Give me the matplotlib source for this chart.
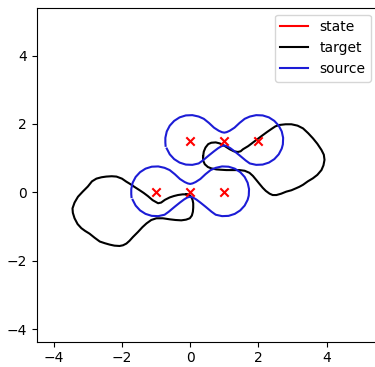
import matplotlib
matplotlib.use("Agg")
import matplotlib.pyplot as plt
from matplotlib.lines import Line2D

# state markers
state_x = [-1, 0, 1, 0, 1, 2]
state_y = [0, 0, 0, 1.5, 1.5, 1.5]

# source shape outline (relative to its centre)
shape_dx = [-1.686, -1.598, -1.469, -1.309, -1.127, -0.936, -0.750, -0.63, -0.45,
            -0.30, -0.18, -0.08, 0.00, 0.08, 0.18, 0.30, 0.45, 0.63, 0.750,
            0.936, 1.127, 1.309, 1.469, 1.598, 1.686, 1.719, 1.727, 1.686,
            1.598, 1.469, 1.309, 1.127, 0.936, 0.750, 0.60, 0.45, 0.30, 0.16,
            0.07, 0.00, -0.07, -0.16, -0.30, -0.45, -0.60, -0.750, -0.936,
            -1.127, -1.309, -1.469, -1.598, -1.686, -1.727, -1.727, -1.72]
shape_dy = [-0.22, -0.389, -0.529, -0.631, -0.689, -0.697, -0.656, -0.57, -0.42,
            -0.30, -0.21, -0.15, -0.13, -0.15, -0.21, -0.30, -0.42, -0.57, -0.656,
            -0.697, -0.689, -0.631, -0.529, -0.389, -0.22, -0.097, 0.094, 0.28,
            0.449, 0.589, 0.692, 0.749, 0.757, 0.716, 0.65, 0.53, 0.39, 0.30,
            0.26, 0.245, 0.26, 0.30, 0.39, 0.53, 0.65, 0.716, 0.757,
            0.749, 0.692, 0.589, 0.449, 0.28, 0.094, -0.05, -0.14]
source_centers_x = [0, 1]
source_centers_y = [0, 1.5]

# target curves
target1_x = [-0.11, -0.03, 0.03, 0.07, 0.09, 0.09, 0.08, 0.05, -0.01, -0.12, -0.26,
             -0.43, -0.60, -0.80, -0.99, -1.14, -1.28, -1.40, -1.53, -1.68, -1.78,
             -1.87, -1.97, -2.07, -2.22, -2.36, -2.50, -2.65, -2.80, -2.95, -3.08,
             -3.19, -3.30, -3.39, -3.44, -3.45, -3.39, -3.29, -3.15, -3.00, -2.88,
             -2.75, -2.60, -2.46, -2.30, -2.16, -2.00, -1.87, -1.77, -1.62, -1.48,
             -1.36, -1.24, -1.10, -0.94, -0.85, -0.74, -0.60, -0.48, -0.36, -0.22,
             -0.11]
target1_y = [-0.06, -0.07, -0.13, -0.22, -0.32, -0.45, -0.57, -0.68, -0.76, -0.80, -0.82,
             -0.81, -0.79, -0.76, -0.76, -0.81, -0.91, -1.02, -1.16, -1.31, -1.42,
             -1.50, -1.55, -1.57, -1.56, -1.53, -1.49, -1.44, -1.33, -1.21, -1.13,
             -1.05, -0.93, -0.76, -0.60, -0.47, -0.30, -0.13, 0.02, 0.17, 0.32,
             0.40, 0.44, 0.46, 0.47, 0.46, 0.40, 0.31, 0.25, 0.15, 0.06,
             -0.02, -0.11, -0.23, -0.32, -0.30, -0.22, -0.15, -0.11, -0.08, -0.06,
             -0.06]
target2_x = [0.38, 0.40, 0.45, 0.53, 0.62, 0.75, 0.87, 1.02, 1.16, 1.28, 1.40, 1.48,
             1.55, 1.70, 1.82, 1.94, 2.10, 2.25, 2.38, 2.50, 2.62, 2.80, 2.97, 3.15,
             3.31, 3.46, 3.60, 3.73, 3.85, 3.92, 3.94, 3.91, 3.85, 3.73, 3.60, 3.45,
             3.31, 3.20, 3.11, 2.97, 2.82, 2.67, 2.53, 2.42, 2.33, 2.22, 2.13, 2.03,
             1.94, 1.84, 1.74, 1.60, 1.45, 1.25, 1.06, 0.90, 0.77, 0.62, 0.52, 0.43,
             0.38, 0.38]
target2_y = [1.05, 1.19, 1.31, 1.41, 1.45, 1.46, 1.43, 1.35, 1.26, 1.20, 1.18, 1.20,
             1.26, 1.35, 1.44, 1.53, 1.65, 1.76, 1.85, 1.93, 1.97, 1.99, 1.99, 1.95,
             1.87, 1.73, 1.58, 1.42, 1.24, 1.10, 0.95, 0.79, 0.65, 0.51, 0.41, 0.32,
             0.22, 0.16, 0.12, 0.06, 0.02, -0.04, -0.08, -0.08, -0.04, 0.04, 0.13, 0.25,
             0.36, 0.48, 0.57, 0.63, 0.65, 0.65, 0.65, 0.66, 0.67, 0.70, 0.74, 0.82,
             0.93, 1.05]

fig = plt.figure(figsize=(3.75, 3.67), dpi=100)
ax = fig.add_axes([36.7 / 375, 25.3 / 367, 341 / 375, 334 / 367])

ax.plot(target1_x, target1_y, color="k")
ax.plot(target2_x, target2_y, color="k")
for cx, cy in zip(source_centers_x, source_centers_y):
    ax.plot([cx + d for d in shape_dx], [cy + d for d in shape_dy], color="#1c1cd6")
ax.scatter(state_x, state_y, c="r", marker="x", zorder=3)

ax.set_xlim(-4.5, 5.5)
ax.set_ylim(-4.37, 5.4)
ax.set_xticks([-4, -2, 0, 2, 4])
ax.set_yticks([-4, -2, 0, 2, 4])

handles = [Line2D([], [], color="r"), Line2D([], [], color="k"),
           Line2D([], [], color="#1c1cd6")]
ax.legend(handles, ["state", "target", "source"], loc="upper right")

fig.savefig("out.png", dpi=100)
